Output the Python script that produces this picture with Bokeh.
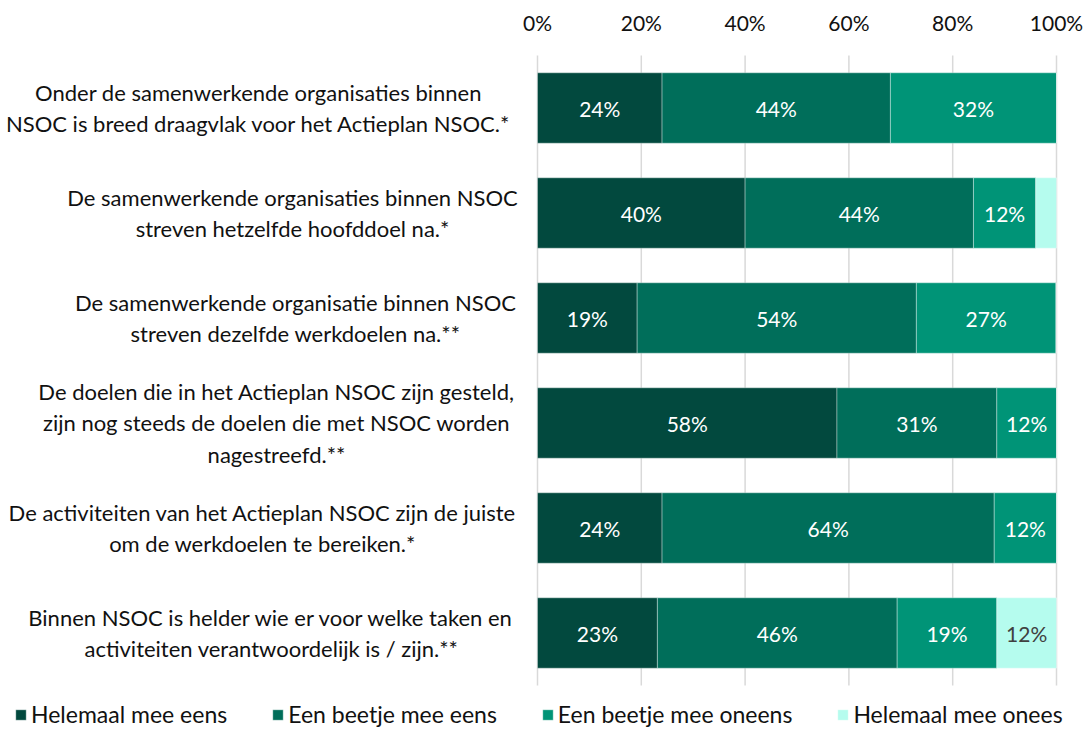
from bokeh.plotting import figure
from bokeh.models import Range1d, FixedTicker, PrintfTickFormatter, Legend, LegendItem, ColumnDataSource
from bokeh.core.properties import value
from bokeh.embed import file_html
from bokeh.resources import INLINE

statements = [
    "Onder de samenwerkende organisaties binnen\nNSOC is breed draagvlak voor het Actieplan NSOC.*",
    "De samenwerkende organisaties binnen NSOC\nstreven hetzelfde hoofddoel na.*",
    "De samenwerkende organisatie binnen NSOC\nstreven dezelfde werkdoelen na.**",
    "De doelen die in het Actieplan NSOC zijn gesteld,\nzijn nog steeds de doelen die met NSOC worden\nnagestreefd.**",
    "De activiteiten van het Actieplan NSOC zijn de juiste\nom de werkdoelen te bereiken.*",
    "Binnen NSOC is helder wie er voor welke taken en\nactiviteiten verantwoordelijk is / zijn.**",
]
series_names = ["Helemaal mee eens", "Een beetje mee eens", "Een beetje mee oneens", "Helemaal mee onees"]
helemaal_eens = [24.0, 40.0, 19.2, 57.7, 24.0, 23.1]
beetje_eens = [44.0, 44.0, 53.8, 30.8, 64.0, 46.2]
beetje_oneens = [32.0, 12.0, 26.9, 11.5, 12.0, 19.2]
helemaal_oneens = [0.0, 4.0, 0.0, 0.0, 0.0, 11.5]
x_ticks = [0, 20, 40, 60, 80, 100]

# ---- styling / layout ----
colors = ["#02493E", "#006E5A", "#009477", "#B5FCEE"]
label_colors = ["white", "white", "white", "#404040"]
FONT = "Lato"
FS_CAT = "22px"
FS_LEG = "23px"
FS_NUM = "21px"
TEXT_COLOR = "#111111"
W, H = 1086, 729
X0_PX, X100_PX = 537, 1056        # pixel positions of 0% and 100%
TOP_PX, ROW_PX = 55, 105          # top of category area, band height
FRAME_TOP = 40
label_centers_px = [258, 292, 295, 276, 262, 271]

def px_to_x(px):
    return (px - X0_PX) * 100.0 / (X100_PX - X0_PX)

n = len(statements)
y_top = (FRAME_TOP - TOP_PX) / ROW_PX
y_bot = n + (H - (TOP_PX + n * ROW_PX)) / ROW_PX

p = figure(width=W, height=H, output_backend="svg", toolbar_location=None,
           x_range=Range1d(px_to_x(0), px_to_x(W)), y_range=Range1d(y_bot, y_top),
           x_axis_location="above", y_axis_location=None,
           min_border_left=0, min_border_right=0, min_border_top=FRAME_TOP, min_border_bottom=0)
p.outline_line_color = None
p.background_fill_color = "white"
p.border_fill_color = "white"
p.xgrid.grid_line_color = None
p.ygrid.grid_line_color = None

ax = p.xaxis[0]
ax.ticker = FixedTicker(ticks=x_ticks)
ax.formatter = PrintfTickFormatter(format="%d%%")
ax.axis_line_color = None
ax.major_tick_line_color = None
ax.minor_tick_line_color = None
ax.major_label_text_font = FONT
ax.major_label_text_font_size = FS_NUM
ax.major_label_text_color = TEXT_COLOR
ax.major_label_standoff = 0

# vertical gridlines over the category area only
p.segment(x0=x_ticks, y0=[0] * len(x_ticks), x1=x_ticks, y1=[n] * len(x_ticks),
          line_color="#d9d9d9", line_width=1.5)

ys = [i + 0.5 for i in range(n)]
series = [helemaal_eens, beetje_eens, beetje_oneens, helemaal_oneens]
left = [0.0] * n
items = []
for k, vals in enumerate(series):
    right = [l + v for l, v in zip(left, vals)]
    src = ColumnDataSource(dict(
        y=ys, left=left, right=right,
        mid=[(l + r) / 2 for l, r in zip(left, right)],
        txt=[f"{round(v):d}%" if v >= 8 else "" for v in vals],
    ))
    r = p.hbar(y="y", left="left", right="right", height=0.67, source=src,
               fill_color=colors[k], line_color="white", line_alpha=0.35, line_width=1)
    items.append(LegendItem(label=series_names[k], renderers=[r]))
    p.text(x="mid", y="y", text="txt", source=src, text_align="center", text_baseline="middle",
           text_font=value(FONT), text_font_size=FS_NUM, text_color=label_colors[k])
    left = right

cat_src = ColumnDataSource(dict(x=[px_to_x(c) for c in label_centers_px], y=ys, text=statements))
p.text(x="x", y="y", text="text", source=cat_src, text_align="center", text_baseline="middle",
       text_font=value(FONT), text_font_size=FS_CAT, text_color=TEXT_COLOR, text_line_height=1.18)

legend = Legend(items=items, orientation="horizontal", location=(14, 1),
                glyph_width=13, glyph_height=13, label_standoff=4, spacing=44,
                label_text_font=FONT, label_text_font_size=FS_LEG, label_text_color=TEXT_COLOR,
                border_line_color=None, background_fill_alpha=0, padding=0, margin=0,
                label_height=22)
p.add_layout(legend, "center")

open("out.html", "w").write(file_html(p, INLINE))
